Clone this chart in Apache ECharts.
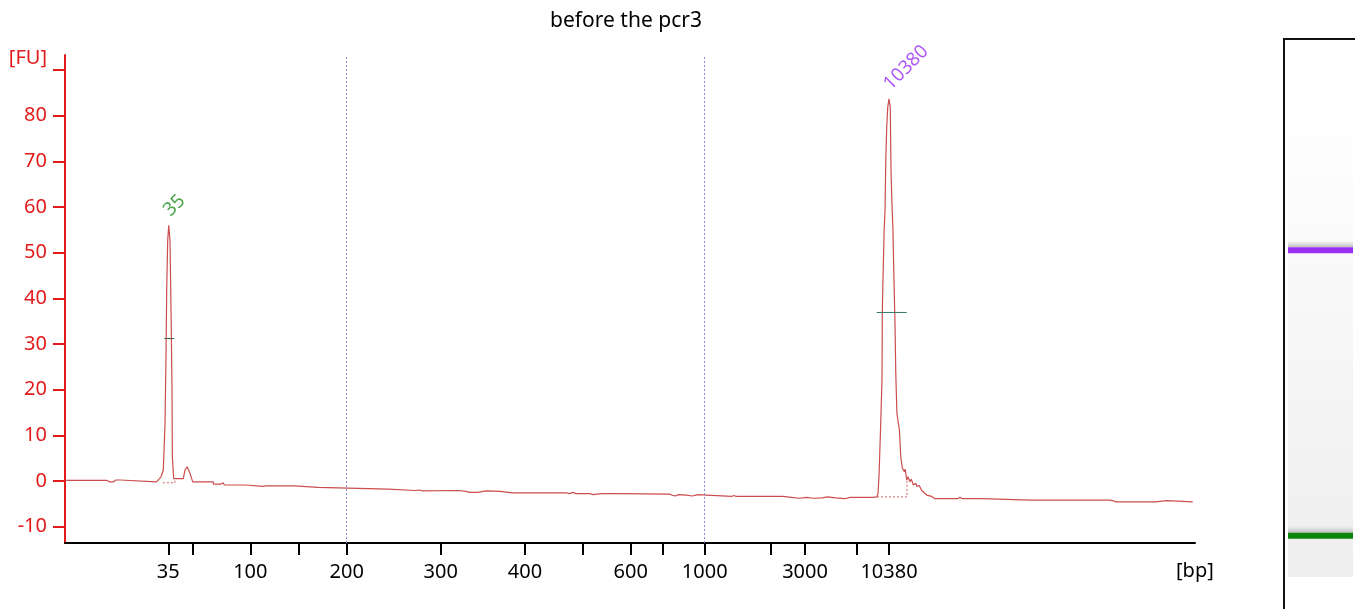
<!DOCTYPE html>
<html>
<head>
<meta charset="utf-8">
<style>
  html, body { margin: 0; padding: 0; background: #fff; }
  #chart { width: 1355px; height: 609px; }
</style>
</head>
<body>
<div id="chart"></div>
<script src="https://cdn.jsdelivr.net/npm/echarts@6/dist/echarts.min.js"></script>
<script>
// migration time (s) of the ladder ticks and their bp labels ('' = tick only)
const ladderTime = [29.14, 31.27, 36.40, 40.65, 44.93, 53.25, 60.71, 65.81, 70.06, 72.89, 76.61, 82.45, 85.49, 90.06, 92.92];
const ladderLabel = ['35', '', '100', '', '200', '300', '400', '', '600', '', '1000', '', '3000', '', '10380'];
const markerLines = ['200', '1000'];

// electropherogram trace: time (s) and fluorescence (FU)
const traceTime = [20.00, 23.70, 24.00, 24.30, 24.50, 24.90, 25.00, 28.10, 28.50, 28.70, 28.85, 28.94, 29.00, 29.09, 29.18,
  29.29, 29.38, 29.47, 29.50, 29.58, 29.62, 30.47, 30.62, 30.80, 30.92, 31.06, 31.30, 33.12, 33.15, 33.80,
  33.87, 34.00, 34.10, 36.00, 36.10, 37.50, 37.60, 37.80, 40.30, 40.40, 42.40, 42.50, 48.60, 48.70, 51.00,
  51.10, 51.40, 51.60, 54.90, 55.00, 55.50, 55.80, 56.50, 57.30, 58.50, 58.60, 59.60, 62.60, 62.70, 62.90,
  64.40, 64.60, 65.00, 65.20, 66.50, 66.70, 67.50, 68.90, 69.00, 73.50, 73.70, 74.00, 74.30, 75.00, 75.50,
  76.00, 76.80, 76.90, 79.00, 79.20, 79.40, 83.50, 83.60, 84.30, 85.00, 85.60, 86.20, 87.00, 87.50, 88.20,
  89.00, 89.50, 91.50, 91.85, 91.95, 92.04, 92.17, 92.30, 92.33, 92.36, 92.49, 92.57, 92.63, 92.72, 92.81,
  92.92, 93.03, 93.10, 93.18, 93.27, 93.36, 93.45, 93.52, 93.62, 93.84, 93.96, 94.10, 94.28, 94.35, 94.49,
  94.60, 94.78, 94.90, 95.07, 95.30, 95.37, 95.60, 95.81, 96.26, 96.70, 97.00, 99.00, 99.20, 99.40, 101.20,
  101.30, 105.50, 105.60, 105.70, 112.40, 112.50, 112.70, 113.00, 114.70, 114.80, 115.00, 116.50, 116.60, 117.50,
  117.60, 119.80];
const traceFu = [0.1, 0.1, -0.2, -0.2, 0.2, 0.2, -0.2, -0.2, 0.9, 2.4, 12.6, 27.2, 41.8, 52.7, 56.0,
  52.7, 38.1, 19.9, 5.3, 2.0, 0.5, 0.5, 2.4, 3.1, 3.1, 1.7, -0.2, -0.2, -0.7, -0.7,
  -0.4, -0.4, -0.9, -0.9, -1.2, -1.2, -0.9, -1.1, -1.1, -1.4, -1.4, -1.8, -1.8, -2.1, -2.1,
  -2.3, -2.0, -2.2, -2.1, -2.5, -2.3, -2.5, -2.5, -2.2, -2.3, -2.5, -2.6, -2.6, -2.9, -2.6,
  -2.6, -2.8, -2.5, -2.8, -2.8, -3.0, -2.8, -2.8, -2.9, -2.9, -3.1, -3.3, -3.0, -3.1, -3.3,
  -3.0, -3.1, -3.4, -3.4, -3.2, -3.4, -3.4, -3.8, -3.6, -3.8, -3.6, -3.8, -3.7, -3.5, -3.7,
  -3.9, -3.6, -3.6, -3.5, -2.7, 1.3, 11.2, 22.1, 36.7, 41.1, 54.9, 59.3, 69.5, 77.5, 81.9,
  83.7, 82.0, 68.0, 60.8, 54.9, 44.0, 34.5, 23.6, 14.8, 11.2, 5.3, 2.8, 2.0, 2.6, 0.2,
  0.9, -0.2, 0.4, -0.9, -0.5, -1.2, -1.0, -2.1, -3.1, -3.4, -3.9, -3.9, -3.6, -3.9, -3.9,
  -4.2, -4.2, -3.9, -4.2, -4.2, -4.6, -4.3, -4.6, -4.6, -4.3, -4.6, -4.6, -4.3, -4.3,
  -4.6, -4.6];

// called peaks
const peakLabel = ['35', '10380'];
const peakTime = [29.18, 92.92];
const peakFu = [56.0, 83.7];
const peakColor = ['#1e8c1e', '#9b30f5'];
const bandColor = ['#0a840a', '#9b30f5'];
const halfFu = [31.2, 36.9];
const halfStart = [28.79, 91.83];
const halfEnd = [29.67, 94.49];
const halfColor = ['#3d5f52', '#2e7a66'];
const baseStart = [28.67, 91.86];
const baseEnd = [29.73, 94.51];
const baseFu = [-0.4, -3.5];
const baseEndTop = [0.5, 0.2];

const RED = '#e31b1b';
const FONT = 'Noto Sans';

const chart = echarts.init(document.getElementById('chart'));

const trace = traceTime.map((t, i) => [t, traceFu[i]]);
const labelledTimes = ladderTime.filter((t, i) => ladderLabel[i] !== '');
function bpAt(v) {
  const i = ladderTime.findIndex(t => Math.abs(t - v) < 1e-6);
  return i < 0 ? '' : ladderLabel[i];
}

const series = [{
  type: 'line',
  data: trace,
  showSymbol: false,
  lineStyle: { color: '#cc4d4d', width: 1.2 },
  z: 3,
  markLine: {
    silent: true,
    symbol: 'none',
    label: { show: false },
    lineStyle: { color: '#8a8ad6', type: [2, 2], width: 1 },
    data: markerLines.map(b => ({ xAxis: ladderTime[ladderLabel.indexOf(b)] }))
  }
}, {
  type: 'scatter',
  symbolSize: 0,
  data: peakTime.map((t, i) => ({
    value: [t, peakFu[i]],
    label: { color: peakColor[i] }
  })),
  label: {
    show: true,
    formatter: p => peakLabel[p.dataIndex],
    position: [-2, -12],
    rotate: 45,
    align: 'left',
    verticalAlign: 'middle',
    fontFamily: FONT,
    fontSize: 19
  },
  z: 4
}];

peakTime.forEach((t, i) => {
  series.push({
    type: 'line',
    data: [[halfStart[i], halfFu[i]], [halfEnd[i], halfFu[i]]],
    showSymbol: false,
    lineStyle: { color: halfColor[i], width: 1 },
    z: 4
  });
  series.push({
    type: 'line',
    data: [[baseStart[i], baseFu[i]], [baseEnd[i], baseFu[i]], [baseEnd[i], baseEndTop[i]]],
    showSymbol: false,
    lineStyle: { color: '#d06060', width: 1, type: [2, 2] },
    z: 2
  });
});

// gel lane bands
series.push({
  type: 'custom',
  xAxisIndex: 1,
  yAxisIndex: 1,
  data: peakTime.map((t, i) => [0, t, i]),
  renderItem: function (params, api) {
    const y = api.coord([0, api.value(1)])[1];
    const cs = params.coordSys;
    return {
      type: 'group',
      children: [{
        type: 'rect',
        shape: { x: cs.x, y: y - 10, width: cs.width, height: 7 },
        style: {
          fill: new echarts.graphic.LinearGradient(0, 0, 0, 1, [
            { offset: 0, color: 'rgba(200,200,200,0)' },
            { offset: 1, color: 'rgba(170,170,170,0.8)' }
          ])
        }
      }, {
        type: 'rect',
        shape: { x: cs.x, y: y - 3, width: cs.width, height: 6 },
        style: { fill: bandColor[api.value(2)] }
      }]
    };
  }
});

chart.setOption({
  animation: false,
  backgroundColor: '#fff',
  title: {
    text: 'before the pcr3',
    left: 621,
    top: 6,
    textAlign: 'center',
    textStyle: { fontFamily: FONT, fontSize: 21, fontWeight: 'normal', color: '#000' }
  },
  grid: [
    { left: 65, right: 160, top: 55, bottom: 66 },
    {
      left: 1288, right: 2, top: 129, bottom: 32, show: true, borderWidth: 0,
      backgroundColor: {
        type: 'linear', x: 0, y: 0, x2: 0, y2: 1,
        colorStops: [{ offset: 0, color: '#fefefe' }, { offset: 1, color: '#eeeeee' }]
      }
    }
  ],
  xAxis: [{
    type: 'value',
    gridIndex: 0,
    min: 20,
    max: 120,
    axisLine: { onZero: false, lineStyle: { color: '#000', width: 2 } },
    axisTick: { show: true, length: 12, customValues: ladderTime, lineStyle: { color: '#000', width: 2 } },
    axisLabel: {
      customValues: labelledTimes,
      formatter: bpAt,
      color: '#000',
      fontFamily: FONT,
      fontSize: 20,
      margin: 19
    },
    splitLine: { show: false }
  }, {
    type: 'value', gridIndex: 1, min: 0, max: 1, show: false
  }],
  yAxis: [{
    type: 'value',
    gridIndex: 0,
    min: -13.6,
    max: 93.3,
    name: '[FU]',
    nameLocation: 'end',
    nameGap: -3,
    nameTextStyle: { color: RED, fontFamily: FONT, fontSize: 20, align: 'right', verticalAlign: 'middle', padding: [0, 18, 0, 0] },
    axisLine: { show: true, onZero: false, lineStyle: { color: RED, width: 2 } },
    axisTick: { show: true, length: 12, customValues: [-10, 0, 10, 20, 30, 40, 50, 60, 70, 80, 90], lineStyle: { color: RED, width: 2 } },
    axisLabel: {
      customValues: [-10, 0, 10, 20, 30, 40, 50, 60, 70, 80],
      color: RED,
      fontFamily: FONT,
      fontSize: 20,
      margin: 18
    },
    splitLine: { show: false }
  }, {
    type: 'value', gridIndex: 1, min: 20, max: 120, show: false
  }],
  graphic: [{
    type: 'text',
    left: 1176,
    top: 561,
    style: { text: '[bp]', fill: '#000', fontFamily: FONT, fontSize: 20 }
  }, {
    type: 'polyline',
    shape: { points: [[1284, 609], [1284, 39], [1355, 39]] },
    style: { stroke: '#111', lineWidth: 2, fill: null }
  }],
  series: series
});
</script>
</body>
</html>
